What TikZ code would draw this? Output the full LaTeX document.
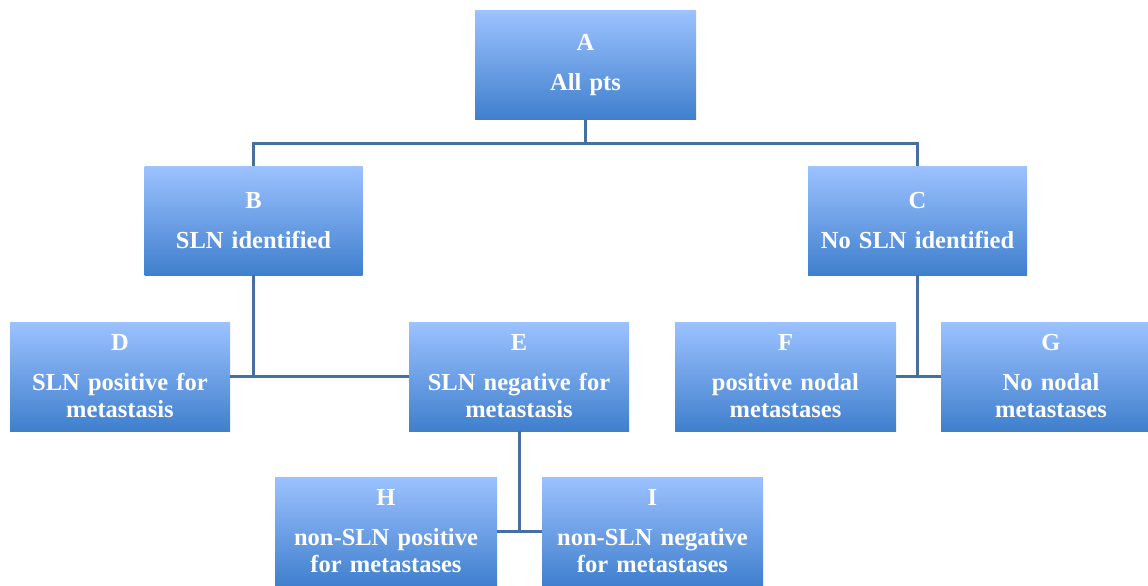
\documentclass[tikz,border=0pt]{standalone}
\usepackage{fontspec}
\setmainfont{Liberation Serif}
\definecolor{boxtop}{HTML}{9CC2FF}
\definecolor{boxmid}{HTML}{80ACEE}
\definecolor{boxbot}{HTML}{3F7FCD}
\definecolor{linkcol}{HTML}{46709F}
\begin{document}
\begin{tikzpicture}[x=1pt,y=-1pt,
  box/.style={rectangle, minimum width=221pt, minimum height=109pt, inner sep=0pt,
    top color=boxtop, middle color=boxmid, bottom color=boxbot,
    text=white, font=\fontsize{24.5}{27}\selectfont\bfseries, align=center, text width=218pt},
  link/.style={draw=linkcol, line width=3pt}]
\useasboundingbox (0,0) rectangle (1148,586);
\clip (0,0) rectangle (1148,586);
\node[box] (A) at (585.5,65) {A\\[13pt]All pts};
\node[box, minimum width=217pt] (B) at (253.5,220.5) {B\\[13pt]SLN identified};
\node[box, minimum width=219pt] (C) at (917.5,220.5) {C\\[13pt]No SLN identified};
\node[box, minimum width=220pt] (D) at (120,376.5) {D\\[13pt]SLN positive for\\metastasis};
\node[box, minimum width=220pt] (E) at (519,376.5) {E\\[13pt]SLN negative for\\metastasis};
\node[box] (F) at (785.5,376.5) {F\\[13pt]positive nodal\\metastases};
\node[box, minimum width=220pt] (G) at (1051,376.5) {G\\[13pt]No nodal\\metastases};
\node[box, minimum width=222pt] (H) at (386,531.5) {H\\[13pt]non-SLN positive\\for metastases};
\node[box] (I) at (652.5,531.5) {I\\[13pt]non-SLN negative\\for metastases};
\coordinate (bus) at (585.5,143);
\draw[link] (A.south) -- (bus);
\draw[link] (B.north) |- (bus) -| (C.north);
\draw[link] (B.south) -- (B.south |- D.east);
\draw[link] (D.east) -- (E.west);
\draw[link] (C.south) -- (C.south |- F.east);
\draw[link] (F.east) -- (G.west);
\draw[link] (E.south) -- (E.south |- H.east);
\draw[link] (H.east) -- (I.west);
\end{tikzpicture}
\end{document}
